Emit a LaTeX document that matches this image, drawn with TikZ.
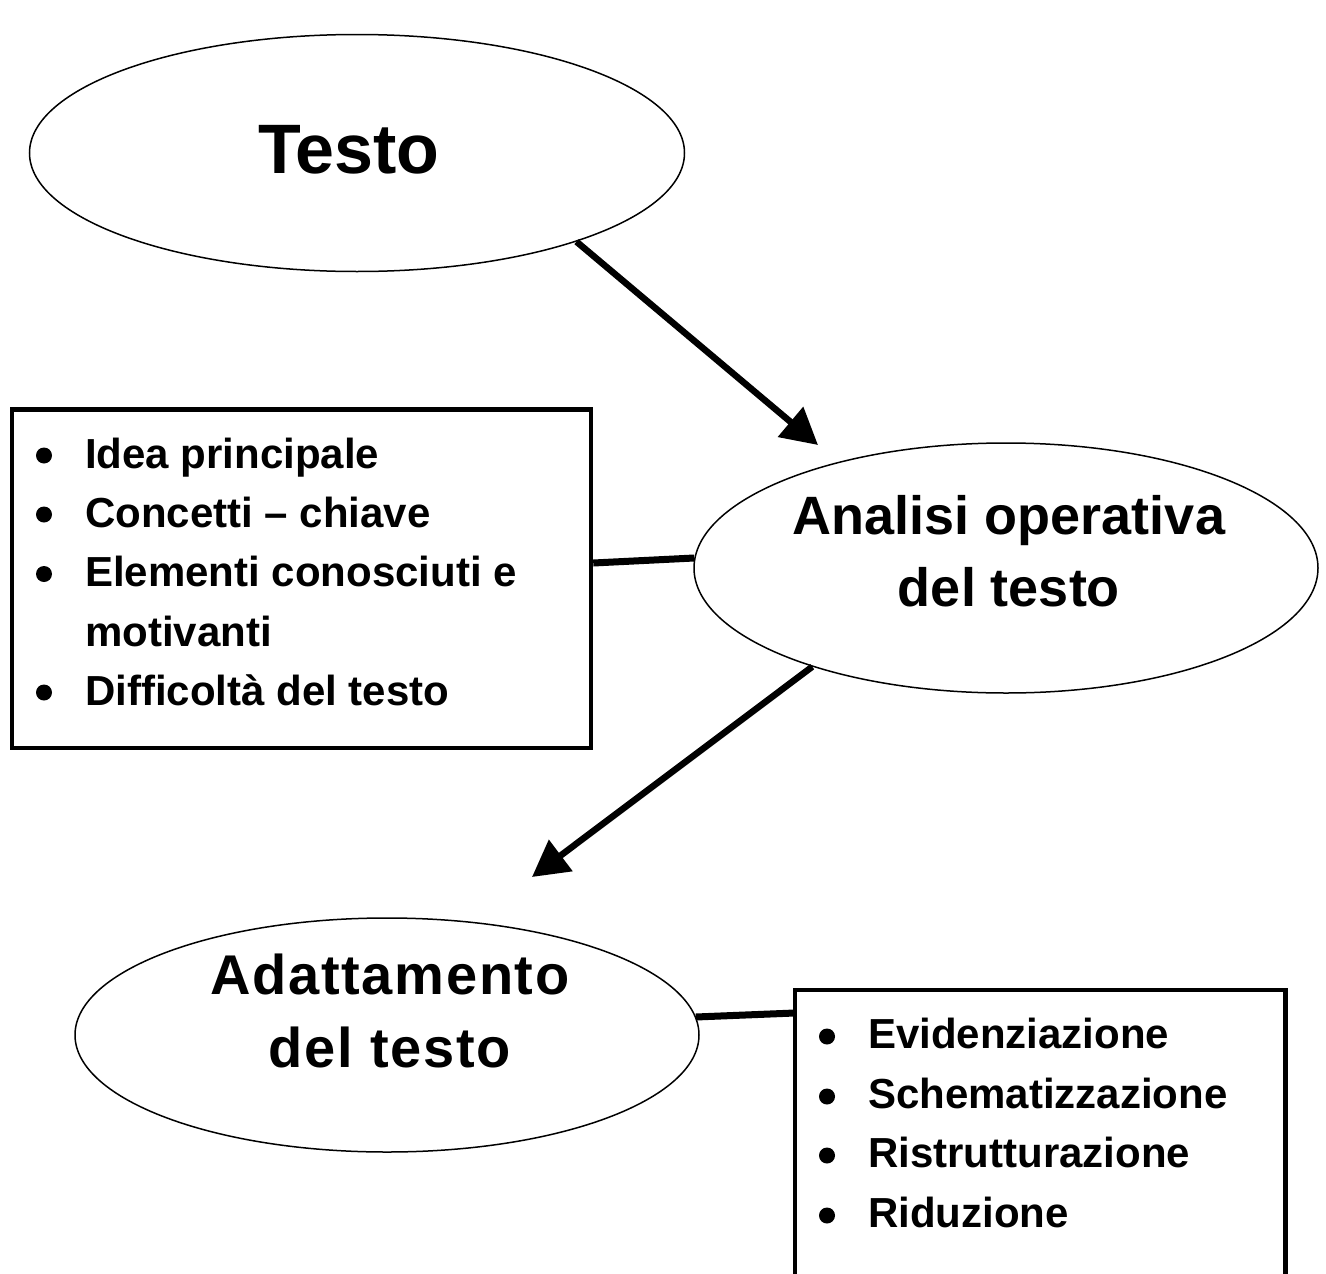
\documentclass[tikz,border=0pt]{standalone}
\usepackage{fontspec}
\setmainfont{Liberation Sans}
\newfontfamily\spaced{Liberation Sans}[LetterSpace=3]
\usetikzlibrary{shapes.geometric,arrows.meta,calc}
\begin{document}
\begin{tikzpicture}[x=1pt,y=-1pt,
  oval/.style={ellipse,draw,line width=1.5pt,inner sep=0pt},
  listbox/.style={draw,line width=4.5pt,inner sep=0pt},
  conn/.style={line width=7pt},
  arr/.style={line width=6.5pt,-{Triangle[length=36pt,width=38pt]}},
  item/.style={anchor=base west,inner sep=0pt,font=\fontsize{42}{50}\selectfont\bfseries},
  dot/.style={circle,fill,inner sep=0pt,minimum size=16pt},
  title/.style={inner sep=0pt,align=center}]
\clip (0,0) rectangle (1326,1274);
\fill[white] (0,0) rectangle (1326,1274);

% ellipses
\node[oval,minimum width=655pt,minimum height=237pt] (testo) at (357,153) {};
\node[title,font=\fontsize{70}{84}\selectfont\bfseries] (testoT) at (349,150) {Testo};

\node[oval,minimum width=624pt,minimum height=250pt] (analisi) at (1006,568) {};
\node[title,font=\fontsize{54}{72}\selectfont\bfseries] (analisiT) at (1009,551) {Analisi operativa\\del testo};

\node[oval,minimum width=624pt,minimum height=234pt] (adatt) at (387,1035) {};
\node[title,font=\spaced\fontsize{56}{73}\selectfont\bfseries] (adattT) at (390,1011) {Adattamento\\del testo};

% boxes
\node[listbox,minimum width=579pt,minimum height=338.5pt] (box1) at (301.5,578.75) {};
\node[listbox,minimum width=490.5pt,minimum height=330pt] (box2) at (1040.25,1155) {};

% box 1 items
\node[dot] (b11) at (44,455.5) {};
\node[item] (i11) at (85,468) {Idea principale};
\node[dot] (b12) at (44,514.5) {};
\node[item] (i12) at (85,527) {Concetti – chiave};
\node[dot] (b13) at (44,574) {};
\node[item] (i13) at (85,586.5) {Elementi conosciuti e};
\node[item] (i14) at (85,646) {motivanti};
\node[dot] (b15) at (44,692.5) {};
\node[item] (i15) at (85,705) {Difficoltà del testo};

% box 2 items
\node[dot] (b21) at (827,1036.5) {};
\node[item] (i21) at (868,1048) {Evidenziazione};
\node[dot] (b22) at (827,1096.5) {};
\node[item] (i22) at (868,1108) {Schematizzazione};
\node[dot] (b23) at (827,1155.5) {};
\node[item] (i23) at (868,1167) {Ristrutturazione};
\node[dot] (b24) at (827,1215.5) {};
\node[item] (i24) at (868,1227) {Riduzione};

% connectors
\draw[conn] ($(box1.east |- analisi.west)+(0,-5)$) -- ($(analisi.west)+(1,-10)$);
\draw[conn] ($(adatt.east)+(-4,-18)$) -- ($(box2.west |- adatt.east)+(2,-22)$);

\coordinate (a1t) at (818,445);
\coordinate (a2t) at (532,877);
\draw[arr] (testo.-22) -- (a1t);
\draw[arr] (analisi.-153) -- (a2t);
\end{tikzpicture}
\end{document}
